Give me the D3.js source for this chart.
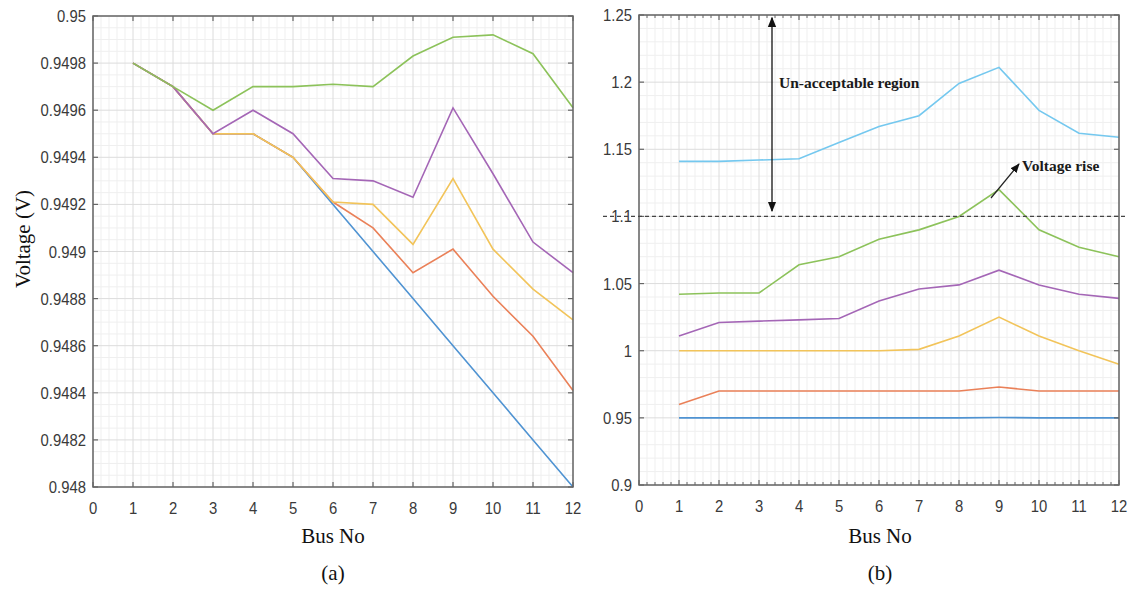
<!DOCTYPE html>
<html>
<head>
<meta charset="utf-8">
<script src="https://cdn.jsdelivr.net/npm/d3@7"></script>
<style>
  body { margin: 0; background: #fff; }
  svg { display: block; }
</style>
</head>
<body>
<svg id="chart" width="1129" height="591"></svg>
<script>
const busNo = [1, 2, 3, 4, 5, 6, 7, 8, 9, 10, 11, 12];

// panel (a)
const aBlue = [0.9498, 0.9497, 0.9495, 0.9495, 0.9494, 0.9492, 0.949, 0.9488, 0.9486, 0.9484, 0.9482, 0.948];
const aOrange = [0.9498, 0.9497, 0.9495, 0.9495, 0.9494, 0.94921, 0.9491, 0.94891, 0.94901, 0.94881, 0.94864, 0.94841];
const aYellow = [0.9498, 0.9497, 0.9495, 0.9495, 0.9494, 0.94921, 0.9492, 0.94903, 0.94931, 0.94901, 0.94884, 0.94871];
const aPurple = [0.9498, 0.9497, 0.9495, 0.9496, 0.9495, 0.94931, 0.9493, 0.94923, 0.94961, 0.94933, 0.94904, 0.94891];
const aGreen = [0.9498, 0.9497, 0.9496, 0.9497, 0.9497, 0.94971, 0.9497, 0.94983, 0.94991, 0.94992, 0.94984, 0.94961];

// panel (b)
const bBlue = [0.95, 0.95, 0.95, 0.95, 0.95, 0.95, 0.95, 0.95, 0.9503, 0.95, 0.95, 0.95];
const bOrange = [0.96, 0.97, 0.97, 0.97, 0.97, 0.97, 0.97, 0.97, 0.973, 0.97, 0.97, 0.97];
const bYellow = [1.0, 1.0, 1.0, 1.0, 1.0, 1.0, 1.001, 1.011, 1.025, 1.011, 1.0, 0.99];
const bPurple = [1.011, 1.021, 1.022, 1.023, 1.024, 1.037, 1.046, 1.049, 1.06, 1.049, 1.042, 1.039];
const bGreen = [1.042, 1.043, 1.043, 1.064, 1.07, 1.083, 1.09, 1.1, 1.12, 1.09, 1.077, 1.07];
const bCyan = [1.141, 1.141, 1.142, 1.143, 1.155, 1.167, 1.175, 1.199, 1.211, 1.179, 1.162, 1.159];

const xTicks = [0, 1, 2, 3, 4, 5, 6, 7, 8, 9, 10, 11, 12];
const aYTicks = [0.948, 0.9482, 0.9484, 0.9486, 0.9488, 0.949, 0.9492, 0.9494, 0.9496, 0.9498, 0.95];
const bYTicks = [0.9, 0.95, 1, 1.05, 1.1, 1.15, 1.2, 1.25];

const colors = {
  blue: "#4f93d2",
  orange: "#ea8058",
  yellow: "#f2c45a",
  purple: "#a466b6",
  green: "#8cc25a",
  cyan: "#74c8ef",
};

const svg = d3.select("#chart");
const tickFont = "'Liberation Sans', Arial, sans-serif";
const serif = "'Liberation Serif', 'Times New Roman', serif";

function drawPanel({ left, right, top, bottom, yDomain, yTicks, yMinorStep, xMinorTicks, yFormat, series }) {
  const x = d3.scaleLinear().domain([0, 12]).range([left, right]);
  const y = d3.scaleLinear().domain(yDomain).range([bottom, top]);
  const g = svg.append("g");

  // minor grid
  const xMinor = d3.range(0, 12.0001, 0.2).filter((v) => Math.abs(v - Math.round(v)) > 1e-6);
  const yMinor = d3.range(yDomain[0], yDomain[1] + 1e-9, yMinorStep)
    .filter((v) => !yTicks.some((t) => Math.abs(t - v) < yMinorStep / 10));

  g.selectAll(".xminor")
    .data(xMinor)
    .join("line")
    .attr("x1", (d) => x(d)).attr("x2", (d) => x(d))
    .attr("y1", top).attr("y2", bottom)
    .attr("stroke", "#efefef").attr("stroke-width", 1);

  g.selectAll(".yminor")
    .data(yMinor)
    .join("line")
    .attr("x1", left).attr("x2", right)
    .attr("y1", (d) => y(d)).attr("y2", (d) => y(d))
    .attr("stroke", "#efefef").attr("stroke-width", 1);

  // major grid
  g.selectAll(".xmajor")
    .data(xTicks)
    .join("line")
    .attr("x1", (d) => x(d)).attr("x2", (d) => x(d))
    .attr("y1", top).attr("y2", bottom)
    .attr("stroke", "#dcdcdc").attr("stroke-width", 1);

  g.selectAll(".ymajor")
    .data(yTicks)
    .join("line")
    .attr("x1", left).attr("x2", right)
    .attr("y1", (d) => y(d)).attr("y2", (d) => y(d))
    .attr("stroke", "#dcdcdc").attr("stroke-width", 1);

  // lines
  const line = d3.line().x((d) => x(d[0])).y((d) => y(d[1]));
  series.forEach((s) => {
    g.append("path")
      .datum(busNo.map((b, i) => [b, s.values[i]]))
      .attr("fill", "none")
      .attr("stroke", s.color)
      .attr("stroke-width", 1.6)
      .attr("d", line);
  });

  // box + ticks
  const axisColor = "#666";
  g.append("rect")
    .attr("x", left).attr("y", top)
    .attr("width", right - left).attr("height", bottom - top)
    .attr("fill", "none").attr("stroke", axisColor).attr("stroke-width", 1.5);

  const tickLen = 5;
  xTicks.forEach((t) => {
    g.append("line").attr("x1", x(t)).attr("x2", x(t)).attr("y1", bottom).attr("y2", bottom - tickLen)
      .attr("stroke", axisColor).attr("stroke-width", 1.2);
    g.append("line").attr("x1", x(t)).attr("x2", x(t)).attr("y1", top).attr("y2", top + tickLen)
      .attr("stroke", axisColor).attr("stroke-width", 1.2);
  });
  if (xMinorTicks) {
    xMinor.forEach((t) => {
      g.append("line").attr("x1", x(t)).attr("x2", x(t)).attr("y1", bottom).attr("y2", bottom - 3)
        .attr("stroke", axisColor).attr("stroke-width", 1);
      g.append("line").attr("x1", x(t)).attr("x2", x(t)).attr("y1", top).attr("y2", top + 3)
        .attr("stroke", axisColor).attr("stroke-width", 1);
    });
  }
  yTicks.forEach((t) => {
    g.append("line").attr("x1", left).attr("x2", left + tickLen).attr("y1", y(t)).attr("y2", y(t))
      .attr("stroke", axisColor).attr("stroke-width", 1.2);
    g.append("line").attr("x1", right).attr("x2", right - tickLen).attr("y1", y(t)).attr("y2", y(t))
      .attr("stroke", axisColor).attr("stroke-width", 1.2);
  });

  // tick labels (slightly narrowed, like the source figure)
  g.selectAll(".xlab")
    .data(xTicks)
    .join("text")
    .attr("transform", (d) => `translate(${x(d)},${bottom + 27}) scale(0.9,1)`)
    .attr("text-anchor", "middle")
    .attr("font-family", tickFont)
    .attr("font-size", 16.5)
    .attr("fill", "#3a3a3a")
    .text((d) => d);

  g.selectAll(".ylab")
    .data(yTicks)
    .join("text")
    .attr("transform", (d) => `translate(${left - 7},${y(d) + 6}) scale(0.9,1)`)
    .attr("text-anchor", "end")
    .attr("font-family", tickFont)
    .attr("font-size", 16.5)
    .attr("fill", "#3a3a3a")
    .text(yFormat);

  return { x, y };
}

// panel (a)
drawPanel({
  left: 93, right: 573, top: 16, bottom: 487,
  yDomain: [0.948, 0.95],
  yTicks: aYTicks,
  yMinorStep: 0.00005,
  xMinorTicks: false,
  yFormat: (d) => +d.toFixed(4),
  series: [
    { values: aBlue, color: colors.blue },
    { values: aOrange, color: colors.orange },
    { values: aYellow, color: colors.yellow },
    { values: aPurple, color: colors.purple },
    { values: aGreen, color: colors.green },
  ],
});

// panel (b)
const b = drawPanel({
  left: 639, right: 1119, top: 15, bottom: 485,
  yDomain: [0.9, 1.25],
  yTicks: bYTicks,
  yMinorStep: 0.01,
  xMinorTicks: true,
  yFormat: (d) => +d.toFixed(2),
  series: [
    { values: bBlue, color: colors.blue },
    { values: bOrange, color: colors.orange },
    { values: bYellow, color: colors.yellow },
    { values: bPurple, color: colors.purple },
    { values: bGreen, color: colors.green },
    { values: bCyan, color: colors.cyan },
  ],
});

// annotations on (b)
const defs = svg.append("defs");
defs.append("marker")
  .attr("id", "arrowhead")
  .attr("viewBox", "0 0 10 10")
  .attr("refX", 9).attr("refY", 5)
  .attr("markerWidth", 8).attr("markerHeight", 8)
  .attr("orient", "auto-start-reverse")
  .append("path")
  .attr("d", "M0,1 L10,5 L0,9 Z")
  .attr("fill", "#111");

svg.append("line")
  .attr("x1", 603).attr("x2", 1127)
  .attr("y1", b.y(1.1)).attr("y2", b.y(1.1))
  .attr("stroke", "#444").attr("stroke-width", 1.3)
  .attr("stroke-dasharray", "4,3");

svg.append("line")
  .attr("x1", 772).attr("x2", 772)
  .attr("y1", b.y(1.248)).attr("y2", b.y(1.104))
  .attr("stroke", "#111").attr("stroke-width", 1.3)
  .attr("marker-start", "url(#arrowhead)")
  .attr("marker-end", "url(#arrowhead)");

svg.append("text")
  .attr("x", 779).attr("y", 88)
  .attr("font-family", serif).attr("font-weight", "bold")
  .attr("font-size", 15.5).attr("fill", "#1a1a1a")
  .text("Un-acceptable region");

svg.append("line")
  .attr("x1", 991).attr("y1", 198)
  .attr("x2", 1019).attr("y2", 164)
  .attr("stroke", "#222").attr("stroke-width", 1.2)
  .attr("marker-end", "url(#arrowhead)");

svg.append("text")
  .attr("x", 1022).attr("y", 171)
  .attr("font-family", serif).attr("font-weight", "bold")
  .attr("font-size", 15.5).attr("fill", "#1a1a1a")
  .text("Voltage rise");

// axis titles and captions
svg.append("text")
  .attr("transform", "translate(30,239) rotate(-90)")
  .attr("text-anchor", "middle")
  .attr("font-family", serif).attr("font-size", 21).attr("fill", "#111")
  .text("Voltage (V)");

[[333, "(a)"], [880, "(b)"]].forEach(([cx, cap]) => {
  svg.append("text")
    .attr("x", cx).attr("y", 543)
    .attr("text-anchor", "middle")
    .attr("font-family", serif).attr("font-size", 21).attr("fill", "#111")
    .text("Bus No");
  svg.append("text")
    .attr("x", cx).attr("y", 580)
    .attr("text-anchor", "middle")
    .attr("font-family", serif).attr("font-size", 21).attr("fill", "#111")
    .text(cap);
});
</script>
</body>
</html>
